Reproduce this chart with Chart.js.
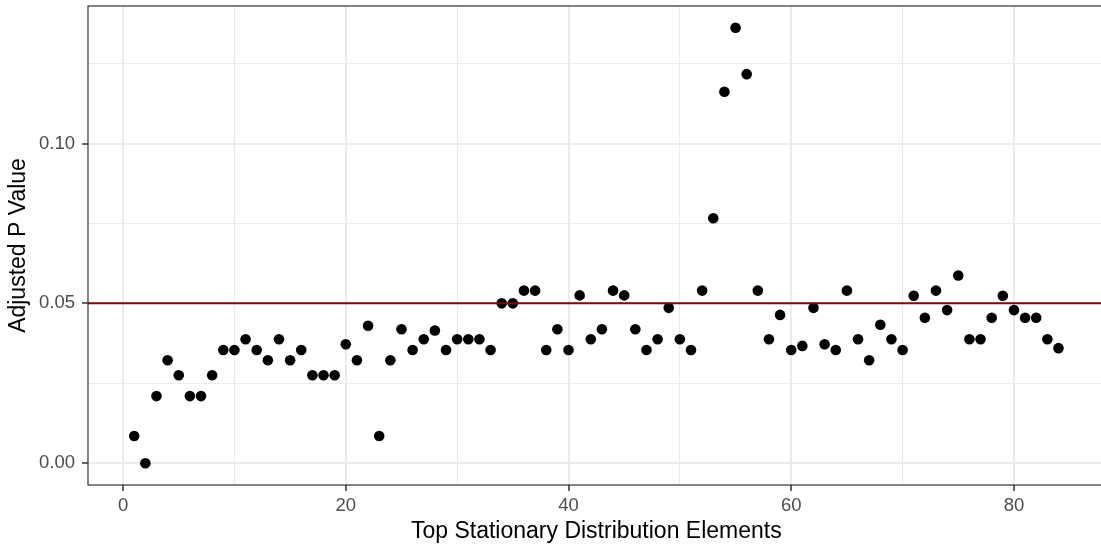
<!DOCTYPE html>
<html>
<head>
<meta charset="utf-8">
<script src="https://cdn.jsdelivr.net/npm/chart.js@4"></script>
<style>
  html, body { margin: 0; padding: 0; background: #ffffff; overflow: hidden; }
  #wrap { width: 1110px; height: 546px; }
</style>
</head>
<body>
<div id="wrap"><canvas id="c" width="1110" height="546"></canvas></div>
<script>
// ---- data ----
const elementRank = [1,2,3,4,5,6,7,8,9,10,11,12,13,14,15,16,17,18,19,20,21,22,23,24,25,26,27,28,29,30,31,32,33,34,35,36,37,38,39,40,41,42,43,44,45,46,47,48,49,50,51,52,53,54,55,56,57,58,59,60,61,62,63,64,65,66,67,68,69,70,71,72,73,74,75,76,77,78,79,80,81,82,83,84];
const adjustedP = [
  0.0085, 0.0000, 0.0210, 0.0322, 0.0275, 0.0210, 0.0210, 0.0275, 0.0354, 0.0354,
  0.0388, 0.0354, 0.0322, 0.0388, 0.0322, 0.0354, 0.0275, 0.0275, 0.0275, 0.0372,
  0.0322, 0.0430, 0.0085, 0.0322, 0.0419, 0.0354, 0.0388, 0.0415, 0.0354, 0.0388,
  0.0388, 0.0388, 0.0354, 0.0500, 0.0500, 0.0540, 0.0540, 0.0354, 0.0419, 0.0354,
  0.0525, 0.0388, 0.0419, 0.0540, 0.0525, 0.0419, 0.0354, 0.0388, 0.0486, 0.0388,
  0.0354, 0.0540, 0.0766, 0.1162, 0.1362, 0.1217, 0.0540, 0.0388, 0.0464, 0.0354,
  0.0367, 0.0486, 0.0372, 0.0354, 0.0540, 0.0388, 0.0322, 0.0433, 0.0388, 0.0354,
  0.0524, 0.0455, 0.0540, 0.0479, 0.0587, 0.0388, 0.0388, 0.0455, 0.0524, 0.0479,
  0.0455, 0.0455, 0.0388, 0.0360
];
const threshold = 0.05;
const xMajorTicks = [0, 20, 40, 60, 80];
const xMinorTicks = [10, 30, 50, 70];
const yMajorTicks = [0, 0.05, 0.10];
const yMinorTicks = [0.025, 0.075, 0.125];
const yTickLabels = ['0.00', '0.05', '0.10'];
const xTitle = 'Top Stationary Distribution Elements';
const yTitle = 'Adjusted P Value';

// ---- helpers ----
const points = elementRank.map((r, i) => ({ x: r, y: adjustedP[i] }));
function isMajor(list, v) { return list.some(m => Math.abs(m - v) < 1e-9); }
function expandRange(vals, frac) {
  const lo = Math.min(...vals), hi = Math.max(...vals);
  const pad = (hi - lo) * frac;
  return [lo - pad, hi + pad];
}
const [xMin, xMax] = expandRange(elementRank, 0.05);
const [yMin, yMax] = expandRange(adjustedP, 0.05);

const FONT = '"Liberation Sans", Arial, Helvetica, sans-serif';
const GRID = '#EBEBEB';

const overlay = {
  id: 'overlay',
  afterDatasetsDraw(chart) {
    const { ctx, chartArea: a, scales } = chart;
    ctx.save();
    const y = scales.y.getPixelForValue(threshold);
    ctx.strokeStyle = '#8B0000';
    ctx.lineWidth = 2;
    ctx.beginPath();
    ctx.moveTo(a.left, y);
    ctx.lineTo(a.right, y);
    ctx.stroke();
    ctx.strokeStyle = '#333333';
    ctx.lineWidth = 1.2;
    ctx.strokeRect(a.left, a.top, a.right - a.left, a.bottom - a.top);
    ctx.restore();
  }
};

new Chart(document.getElementById('c'), {
  type: 'scatter',
  data: {
    datasets: [{
      data: points,
      backgroundColor: '#000000',
      borderWidth: 0,
      pointRadius: 5.3,
      pointHoverRadius: 5.3
    }]
  },
  options: {
    responsive: false,
    animation: false,
    devicePixelRatio: 1,
    layout: { padding: { top: 6, right: 2, bottom: 0, left: 0 } },
    plugins: { legend: { display: false }, tooltip: { enabled: false } },
    scales: {
      x: {
        type: 'linear',
        min: xMin,
        max: xMax,
        afterBuildTicks(scale) {
          scale.ticks = [...xMajorTicks, ...xMinorTicks].sort((a, b) => a - b).map(v => ({ value: v }));
        },
        afterFit(scale) { scale.height = 61; scale.paddingLeft = 0; scale.paddingRight = 0; },
        ticks: {
          autoSkip: false,
          maxRotation: 0,
          padding: 4,
          color: '#4D4D4D',
          font: { family: FONT, size: 18.5 },
          callback: (v) => isMajor(xMajorTicks, v) ? String(v) : ''
        },
        grid: {
          color: GRID,
          lineWidth: (c) => (c.tick && isMajor(xMajorTicks, c.tick.value)) ? 2 : 1,
          tickColor: (c) => (c.tick && isMajor(xMajorTicks, c.tick.value)) ? '#333333' : 'rgba(0,0,0,0)',
          tickWidth: 1.5,
          tickLength: 6
        },
        border: { display: false },
        title: {
          display: true,
          text: xTitle,
          color: '#000000',
          font: { family: FONT, size: 23 },
          padding: { top: 0, bottom: 1 }
        }
      },
      y: {
        type: 'linear',
        min: yMin,
        max: yMax,
        afterBuildTicks(scale) {
          scale.ticks = [...yMajorTicks, ...yMinorTicks].sort((a, b) => a - b).map(v => ({ value: v }));
        },
        afterFit(scale) { scale.width = 88; scale.paddingTop = 0; scale.paddingBottom = 0; },
        ticks: {
          autoSkip: false,
          padding: 7,
          color: '#4D4D4D',
          font: { family: FONT, size: 18.5 },
          callback: (v) => {
            const i = yMajorTicks.findIndex(m => Math.abs(m - v) < 1e-9);
            return i >= 0 ? yTickLabels[i] : '';
          }
        },
        grid: {
          color: GRID,
          lineWidth: (c) => (c.tick && isMajor(yMajorTicks, c.tick.value)) ? 2 : 1,
          tickColor: (c) => (c.tick && isMajor(yMajorTicks, c.tick.value)) ? '#333333' : 'rgba(0,0,0,0)',
          tickWidth: 1.5,
          tickLength: 6
        },
        border: { display: false },
        title: {
          display: true,
          text: yTitle,
          color: '#000000',
          font: { family: FONT, size: 23 },
          padding: { top: 5, bottom: 0 }
        }
      }
    }
  },
  plugins: [overlay]
});
</script>
</body>
</html>
